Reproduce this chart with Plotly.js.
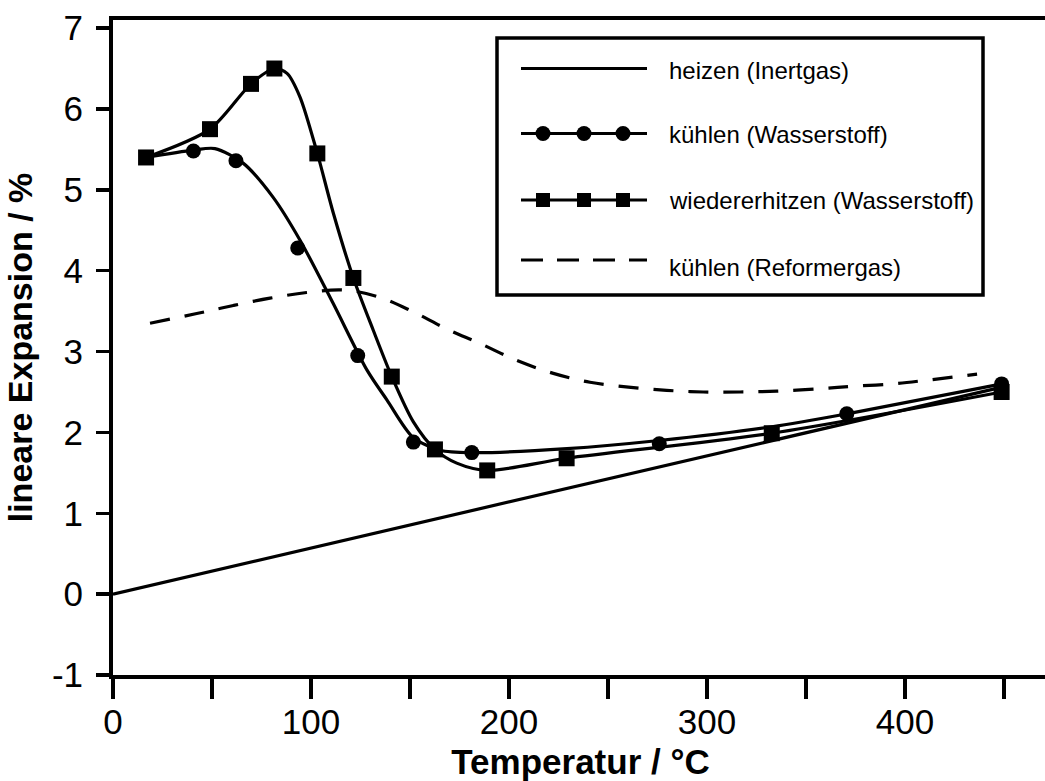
<!DOCTYPE html>
<html>
<head>
<meta charset="utf-8">
<script src="https://cdn.plot.ly/plotly-3.0.1.min.js"></script>
<style>
html, body { margin: 0; padding: 0; overflow: hidden; background: #fff; }
#chart { width: 1050px; height: 781px; }
</style>
</head>
<body>
<div id="chart"></div>
<script>
// ---------- data (°C, %) ----------
const heizenT = [0, 449];
const heizenV = [0, 2.56];

const kuehlH2MarkT = [40.6, 62.1, 93.3, 123.6, 151.7, 181.2, 275.9, 370.6, 448.8];
const kuehlH2MarkV = [5.48, 5.36, 4.28, 2.95, 1.88, 1.75, 1.86, 2.23, 2.60];
const kuehlH2CurveT = [16.7, 40.4, 51.5, 65.7, 80.8, 94.4, 111.1, 128.3, 138.4, 151.5, 165.2, 181.3, 229.3, 275.8, 332.8, 370.7, 449.0];
const kuehlH2CurveV = [5.40, 5.49, 5.51, 5.33, 4.91, 4.38, 3.60, 2.77, 2.40, 1.94, 1.78, 1.75, 1.80, 1.90, 2.07, 2.23, 2.60];

const wiederMarkT = [16.7, 49.0, 69.7, 81.5, 103.2, 121.4, 140.8, 162.6, 189.0, 229.1, 332.7, 448.8];
const wiederMarkV = [5.40, 5.75, 6.31, 6.50, 5.45, 3.91, 2.69, 1.79, 1.53, 1.68, 1.99, 2.50];
const wiederCurveT = [16.7, 49.0, 69.7, 81.5, 87.9, 94.4, 103.2, 111.3, 121.4, 131.5, 140.8, 151.7, 162.6, 173.6, 189.0, 229.1, 332.7, 448.8];
const wiederCurveV = [5.40, 5.75, 6.31, 6.50, 6.44, 6.15, 5.45, 4.71, 3.91, 3.26, 2.69, 2.13, 1.79, 1.62, 1.53, 1.68, 1.99, 2.50];

const reformT = [18.7, 42.3, 60.8, 79.3, 97.8, 117.2, 134.8, 151.7, 168.5, 185.4, 203.9, 222.4, 240.9, 260.3, 279.6, 298.1, 316.7, 335.2, 357.1, 373.7, 393.9, 412.6, 436.4];
const reformV = [3.35, 3.47, 3.57, 3.66, 3.73, 3.76, 3.67, 3.49, 3.28, 3.10, 2.89, 2.73, 2.62, 2.56, 2.52, 2.50, 2.50, 2.51, 2.54, 2.57, 2.60, 2.65, 2.72];

const xTickVals = [0, 50, 100, 150, 200, 250, 300, 350, 400, 450];
const xTickText = ['0', '', '100', '', '200', '', '300', '', '400', ''];
const yTickVals = [-1, 0, 1, 2, 3, 4, 5, 6, 7];
const yTickText = ['-1', '0', '1', '2', '3', '4', '5', '6', '7'];

const legendNames = ['heizen (Inertgas)', 'kühlen (Wasserstoff)', 'wiedererhitzen (Wasserstoff)', 'kühlen (Reformergas)'];

// ---------- layout geometry ----------
const FIG_W = 1050, FIG_H = 781;
const M = { l: 113, r: 2, t: 20, b: 106 };
const PW = FIG_W - M.l - M.r, PH = FIG_H - M.t - M.b;
const fx = p => (p - M.l) / PW;
const fy = p => (FIG_H - M.b - p) / PH;

const FONT = '"Liberation Sans", Arial, Helvetica, sans-serif';
const LW = 3.2;
const DASH = '20px,15px';

const traces = [
  { x: heizenT, y: heizenV, mode: 'lines', name: legendNames[0], showlegend: false,
    line: { color: '#000', width: LW } },
  { x: reformT, y: reformV, mode: 'lines', name: legendNames[3], showlegend: false,
    line: { color: '#000', width: LW, dash: DASH, shape: 'spline', smoothing: 1 } },
  { x: kuehlH2CurveT, y: kuehlH2CurveV, mode: 'lines', name: legendNames[1], showlegend: false,
    line: { color: '#000', width: LW, shape: 'spline', smoothing: 0.8 } },
  { x: kuehlH2MarkT, y: kuehlH2MarkV, mode: 'markers', name: legendNames[1], showlegend: false,
    marker: { symbol: 'circle', size: 15, color: '#000' } },
  { x: wiederCurveT, y: wiederCurveV, mode: 'lines', name: legendNames[2], showlegend: false,
    line: { color: '#000', width: LW, shape: 'spline', smoothing: 0.8 } },
  { x: wiederMarkT, y: wiederMarkV, mode: 'markers', name: legendNames[2], showlegend: false,
    marker: { symbol: 'square', size: 16, color: '#000' } }
];

// ---------- hand-drawn legend (three symbols per sample, as in the original) ----------
const legBox = { x0: 497, x1: 983, y0: 38, y1: 295 };
const sampleX0 = 521, sampleX1 = 647, textX = 667;
const rowLineY = [68.5, 133.5, 200, 260];
const rowTextY = [70, 135, 201, 267];
const symX = [543, 584, 623];

const shapes = [];
const annotations = [];
shapes.push({ type: 'rect', xref: 'paper', yref: 'paper',
  x0: fx(legBox.x0), x1: fx(legBox.x1), y0: fy(legBox.y1), y1: fy(legBox.y0),
  line: { color: '#000', width: 3.5 }, fillcolor: '#fff', layer: 'above' });
rowLineY.forEach((ly, i) => {
  shapes.push({ type: 'line', xref: 'paper', yref: 'paper',
    x0: fx(sampleX0), x1: fx(sampleX1), y0: fy(ly), y1: fy(ly),
    line: { color: '#000', width: LW, dash: i === 3 ? '22px,14px' : 'solid' }, layer: 'above' });
  if (i === 1) {
    const r = 7.5;
    symX.forEach(cx => shapes.push({ type: 'circle', xref: 'paper', yref: 'paper',
      x0: fx(cx - r), x1: fx(cx + r), y0: fy(ly + r), y1: fy(ly - r),
      fillcolor: '#000', line: { width: 0 }, layer: 'above' }));
  }
  if (i === 2) {
    const h = 7;
    symX.forEach(cx => shapes.push({ type: 'rect', xref: 'paper', yref: 'paper',
      x0: fx(cx - h), x1: fx(cx + h), y0: fy(ly + h), y1: fy(ly - h),
      fillcolor: '#000', line: { width: 0 }, layer: 'above' }));
  }
  annotations.push({ xref: 'paper', yref: 'paper', x: fx(textX), y: fy(rowTextY[i]),
    xanchor: 'left', yanchor: 'middle', showarrow: false, text: legendNames[i],
    font: { family: FONT, size: 24, color: '#000' } });
});

const layout = {
  width: FIG_W, height: FIG_H,
  margin: M,
  paper_bgcolor: '#fff', plot_bgcolor: '#fff',
  showlegend: false,
  font: { family: FONT, color: '#000' },
  xaxis: {
    range: [0, PW / 1.98],
    tickmode: 'array', tickvals: xTickVals, ticktext: xTickText,
    ticks: 'outside', ticklen: 20, tickwidth: 3.5, tickcolor: '#000',
    showline: true, linewidth: 4, linecolor: '#000', mirror: true,
    showgrid: false, zeroline: false,
    tickfont: { family: FONT, size: 35, color: '#000' },
    ticklabelstandoff: -7,
    title: { text: 'Temperatur / °C', font: { family: FONT, size: 35, color: '#000', weight: 'bold' }, standoff: 12 }
  },
  yaxis: {
    range: [-1, 7.1],
    tickmode: 'array', tickvals: yTickVals, ticktext: yTickText,
    ticks: 'outside', ticklen: 13, tickwidth: 3.5, tickcolor: '#000',
    showline: true, linewidth: 4, linecolor: '#000', mirror: true,
    showgrid: false, zeroline: false,
    tickfont: { family: FONT, size: 35, color: '#000' },
    ticklabelstandoff: 6,
    title: { text: 'lineare Expansion / %', font: { family: FONT, size: 34, color: '#000', weight: 'bold' }, standoff: 10 }
  },
  shapes: shapes,
  annotations: annotations
};

Plotly.newPlot('chart', traces, layout, { staticPlot: true, displayModeBar: false });
</script>
</body>
</html>
